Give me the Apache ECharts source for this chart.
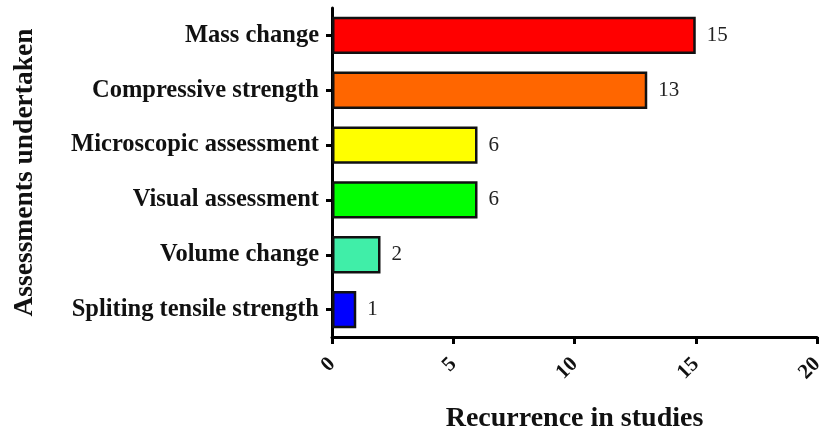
<!DOCTYPE html>
<html>
<head>
<meta charset="utf-8">
<script src="https://cdn.jsdelivr.net/npm/echarts@6/dist/echarts.min.js"></script>
<style>html,body{margin:0;padding:0;background:#fff}#c{width:829px;height:434px}</style>
</head>
<body>
<div id="c"></div>
<script>
const categories = ["Spliting tensile strength", "Volume change", "Visual assessment", "Microscopic assessment", "Compressive strength", "Mass change"];
const values = [1, 2, 6, 6, 13, 15];
const colors = ["#0000ff", "#40eea8", "#00ff00", "#ffff00", "#ff6600", "#ff0000"];
const xTicks = [0, 5, 10, 15, 20];

const font = "'Liberation Serif', 'Times New Roman', serif";
const chart = echarts.init(document.getElementById('c'));
chart.setOption({
  animation: false,
  grid: {left: 332, right: 12, top: 8, bottom: 97, containLabel: false, outerBoundsMode: 'none'},
  xAxis: {
    type: 'value', min: xTicks[0], max: xTicks[xTicks.length - 1], interval: 5,
    name: 'Recurrence in studies', nameLocation: 'middle', nameGap: 68,
    nameTextStyle: {fontFamily: font, fontWeight: 'bold', fontSize: 28, color: '#111'},
    axisLine: {show: true, lineStyle: {color: '#000', width: 3}},
    axisTick: {show: true, length: 7, lineStyle: {color: '#000', width: 3}},
    axisLabel: {rotate: 45, fontFamily: font, fontWeight: 'bold', fontSize: 21, color: '#111', margin: 24},
    splitLine: {show: false}
  },
  yAxis: {
    type: 'category', data: categories,
    name: 'Assessments undertaken', nameLocation: 'middle', nameGap: 293, nameRotate: 90,
    nameTextStyle: {fontFamily: font, fontWeight: 'bold', fontSize: 27.5, color: '#111'},
    axisLine: {show: true, lineStyle: {color: '#000', width: 3}},
    axisTick: {show: true, alignWithLabel: true, length: 6, lineStyle: {color: '#000', width: 3}},
    axisLabel: {fontFamily: font, fontWeight: 'bold', fontSize: 24.5, color: '#111', margin: 13}
  },
  series: [{
    type: 'bar',
    barWidth: '68%',
    data: values.map((v, i) => ({value: v, itemStyle: {color: colors[i]}})),
    itemStyle: {borderColor: '#111', borderWidth: 2.5},
    label: {show: true, position: 'right', distance: 11, fontFamily: font, fontSize: 21, color: '#222'}
  }]
});
</script>
</body>
</html>
